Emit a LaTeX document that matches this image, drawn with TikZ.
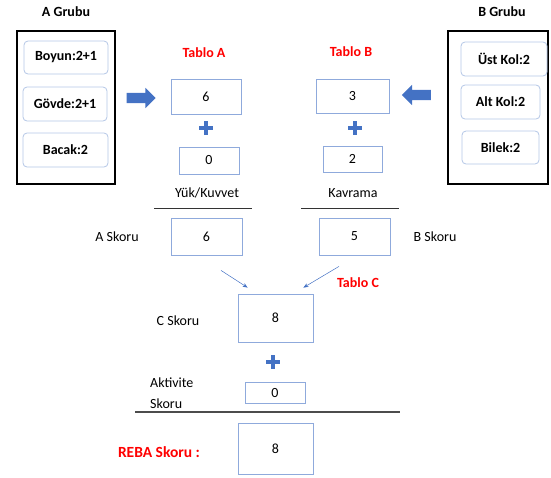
\documentclass[tikz,border=0pt]{standalone}
\usepackage{fontspec}
\setmainfont{Carlito}
\usepackage{xcolor}
\usepackage{tikz}
\usetikzlibrary{arrows.meta, calc, shapes.misc, shapes.arrows}
\definecolor{boxblue}{RGB}{143, 170, 220}
\definecolor{softblue}{RGB}{180, 199, 231}
\definecolor{officeblue}{RGB}{68, 114, 196}
\definecolor{tabred}{RGB}{255, 0, 0}
\newcommand{\basefont}{\fontsize{14}{17}\selectfont}
\tikzset{
    grp/.style   ={draw=black, line width=2pt, inner sep=0pt},
    part/.style  ={draw=softblue, line width=0.8pt, fill=white, rounded corners=4pt,
                   font=\basefont\bfseries, inner sep=0pt},
    val/.style   ={draw=boxblue, line width=0.8pt, fill=white, inner sep=0pt},
    tab/.style   ={font=\basefont\bfseries, text=tabred, inner sep=1pt},
    lbl/.style   ={inner sep=1pt},
    plus/.style  ={cross out, draw=officeblue, line width=3.8pt, rotate=45,
                   minimum size=6pt, inner sep=0pt},
    blockar/.style={single arrow, fill=officeblue, inner sep=0pt,
                   text height=5pt, text depth=5pt, text width=0pt,
                   minimum height=29pt, minimum width=0pt,
                   single arrow head extend=5pt, single arrow head indent=0pt},
    thinar/.style={-{Stealth[length=5pt, width=4pt]}, line width=0.5pt, draw=officeblue},
    rule/.style  ={line width=1pt, draw=black!80}
}

\begin{document}
\begin{tikzpicture}[x=1pt, y=-1pt, font=\basefont]
  \useasboundingbox (0,0) rectangle (551,477);

  % ---- group A
  \node[tab, text=black] (agrubu) at (66,12) {A Grubu};
  \node[grp, minimum width=98pt, minimum height=153pt] (agrp) at (66,107.5) {};
  \node[part, minimum width=84pt, minimum height=33pt] (boyun) at (66,57.5) {Boyun:2+1};
  \node[part, minimum width=84pt, minimum height=34pt] (govde) at (65,104) {Gövde:2+1};
  \node[part, minimum width=85pt, minimum height=34pt] (bacak) at (65.5,150) {Bacak:2};

  % ---- group B
  \node[tab, text=black] (bgrubu) at (502,12) {B Grubu};
  \node[grp, minimum width=100pt, minimum height=153pt] (bgrp) at (498,107.5) {};
  \node[part, minimum width=86pt, minimum height=34pt] (ustkol) at (504,59) {Üst Kol:2};
  \node[part, minimum width=79pt, minimum height=34pt] (altkol) at (500.5,102) {Alt Kol:2};
  \node[part, minimum width=77pt, minimum height=33pt] (bilek) at (500.5,147.5) {Bilek:2};

  % ---- block arrows
  \node[blockar] (arra) at (138.5,98) {};
  \node[blockar, shape border rotate=180] (arrb) at (419,95) {};

  % ---- table A
  \node[tab] (tabloa) at (204,53) {Tablo A};
  \node[val, minimum width=70pt, minimum height=35pt] (a1) at (206,96.5) {6};
  \node[plus] (plusa) at (206,128) {};
  \node[val, minimum width=60pt, minimum height=27pt] (a2) at (209,160.5) {0};
  \node[lbl] (yuk) at (207,193) {Yük/Kuvvet};
  \draw[rule] (154,208) -- (252,208);

  % ---- table B
  \node[tab] (tablob) at (351,52) {Tablo B};
  \node[val, minimum width=73pt, minimum height=34pt] (b1) at (352.5,96) {3};
  \node[plus] (plusb) at (355,128) {};
  \node[val, minimum width=59pt, minimum height=26pt] (b2) at (352.5,159) {2};
  \node[lbl] (kavrama) at (353,193) {Kavrama};
  \draw[rule] (301,208) -- (399,208);

  % ---- scores A and B
  \node[lbl] (askorlbl) at (117,237) {A Skoru};
  \node[val, minimum width=71pt, minimum height=37pt] (askor) at (206.5,236.5) {6};
  \node[val, minimum width=71pt, minimum height=37pt] (bskor) at (354.5,236.5) {5};
  \node[lbl] (bskorlbl) at (435,237) {B Skoru};

  % ---- table C
  \node[tab] (tabloc) at (358,283) {Tablo C};
  \node[val, minimum width=75pt, minimum height=48pt] (cskor) at (275.5,318) {8};
  \node[lbl] (cskorlbl) at (178,321) {C Skoru};
  \draw[thinar] ($(askor.south)+(14.5,15)$) -- ($(cskor.north west)+(10,-6)$);
  \draw[thinar] ($(bskor.south)+(-15.5,11)$) -- ($(cskor.north east)+(-10,-6)$);

  % ---- activity and final score
  \node[plus] (plusc) at (273,362) {};
  \node[lbl, anchor=west, align=left, font=\fontsize{14}{21}\selectfont] (aktlbl) at (149,393)
       {Aktivite\\Skoru};
  \node[val, minimum width=60pt, minimum height=21pt] (akt) at (275,392.5) {0};
  \draw[line width=1.3pt, draw=black!70] (135,412) -- (400,412);
  \node[tab, font=\fontsize{15.5}{18}\selectfont\bfseries] (rebalbl) at (159,452) {REBA Skoru :};
  \node[val, minimum width=75pt, minimum height=51pt] (reba) at (275.5,448.5) {8};
\end{tikzpicture}
\end{document}
